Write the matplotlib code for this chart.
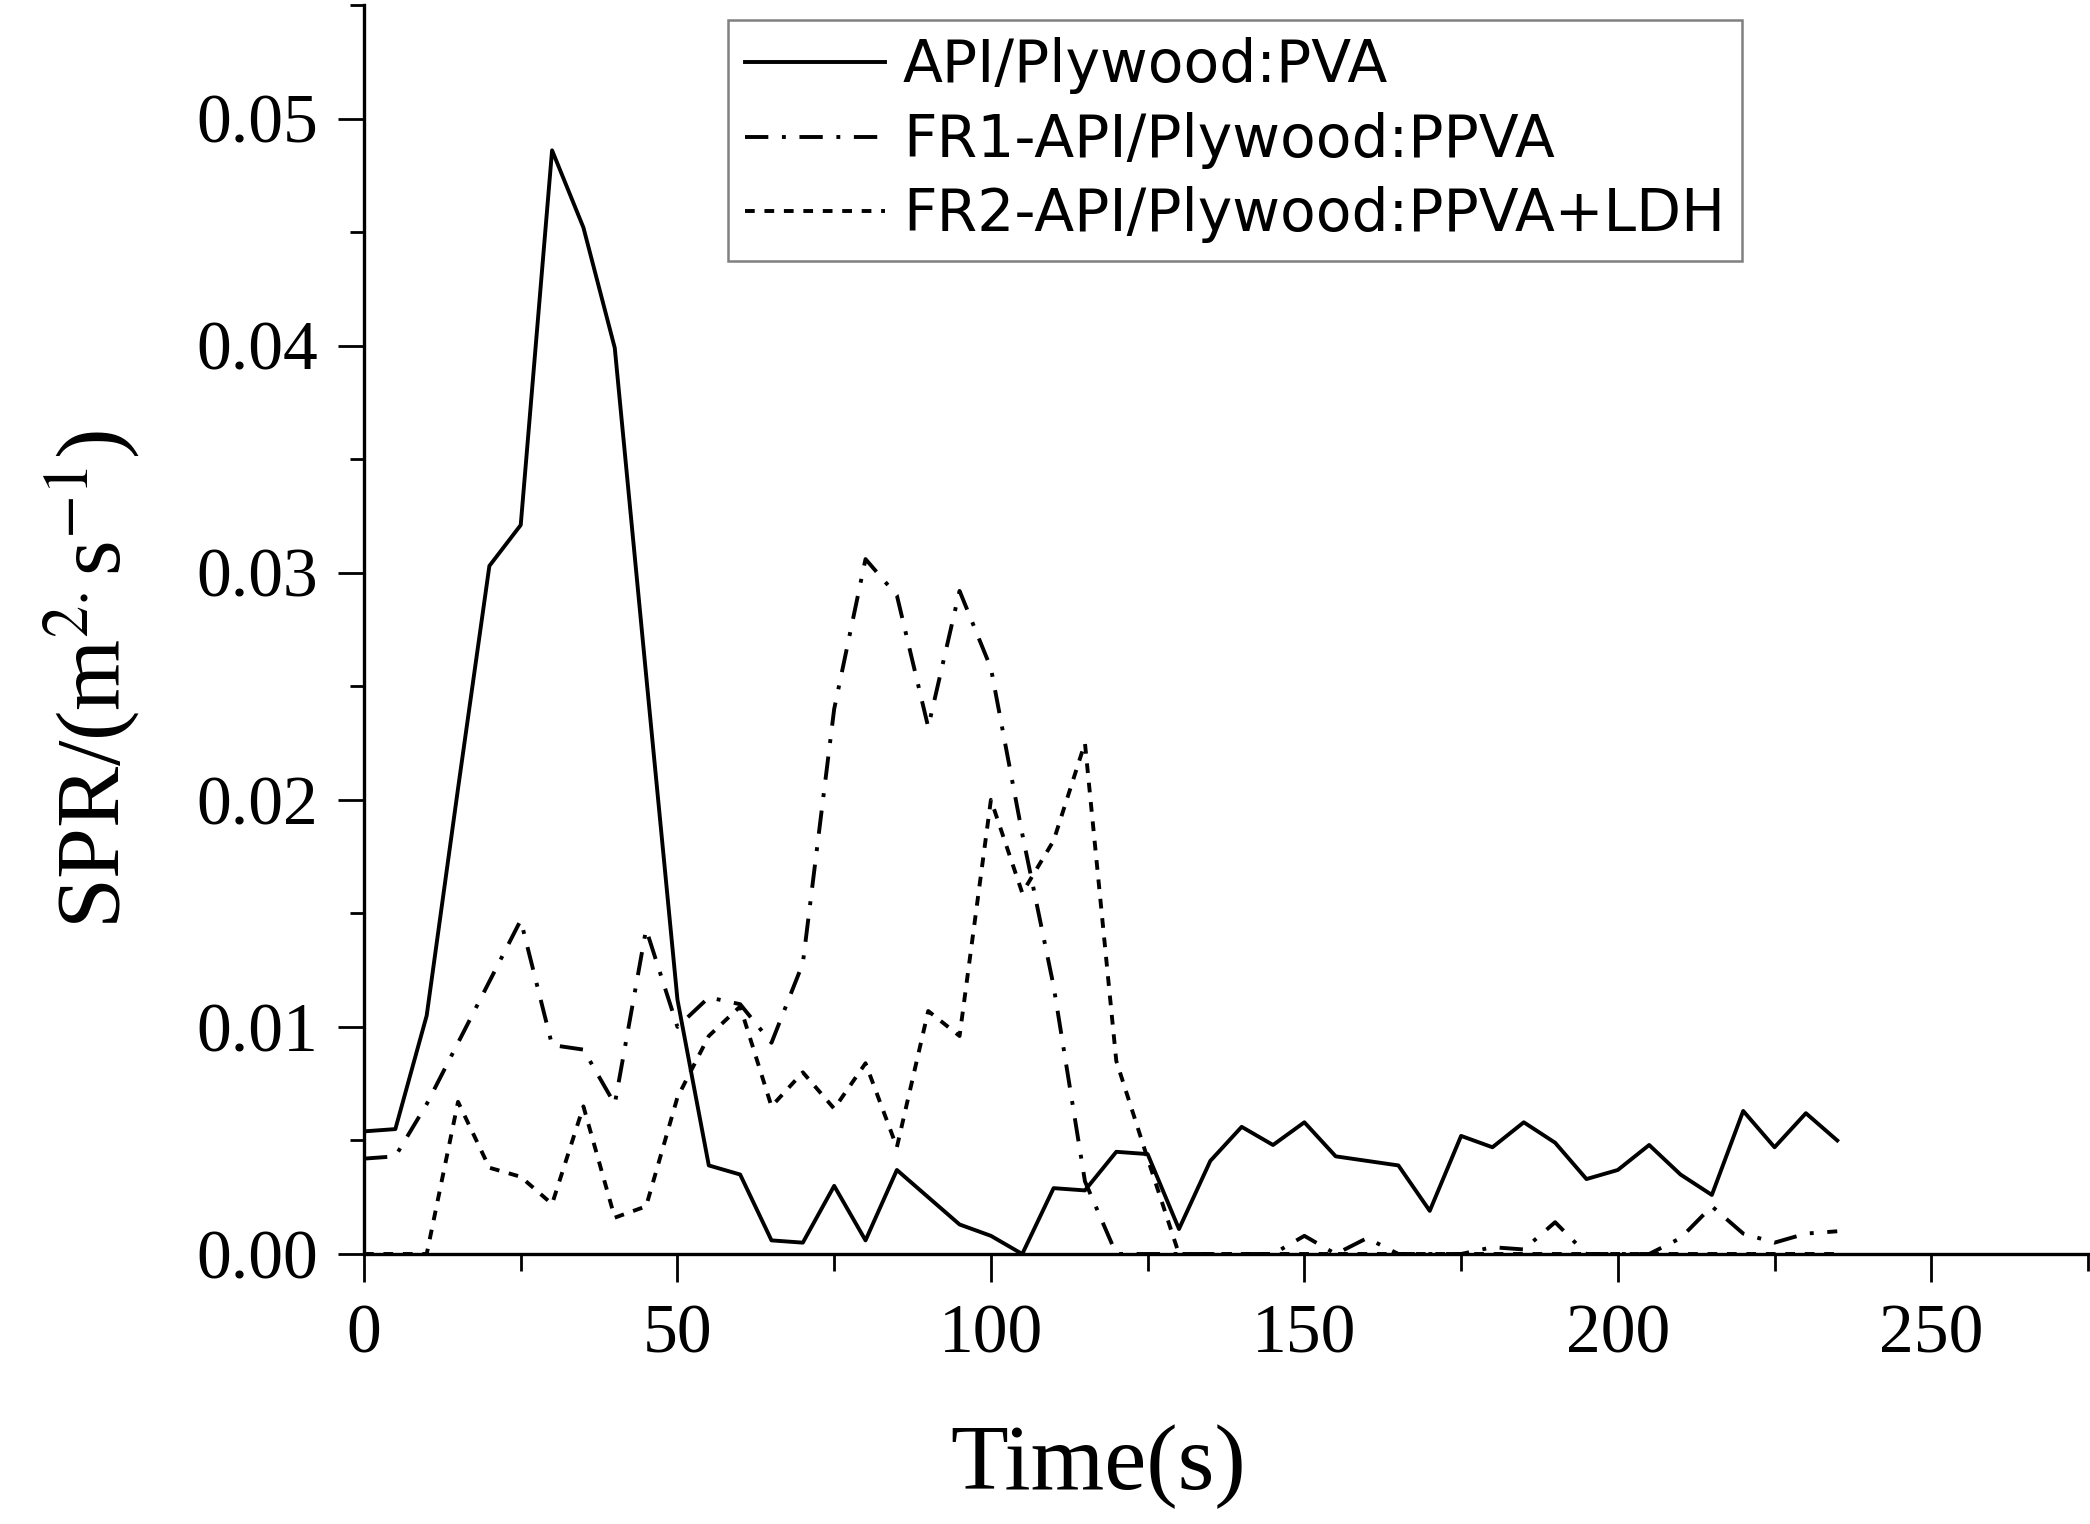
import matplotlib
matplotlib.use('Agg')
import matplotlib.pyplot as plt
from matplotlib.ticker import MultipleLocator, FormatStrFormatter

# ---- data, one point every 5 s
time_s = [0, 5, 10, 15, 20, 25, 30, 35, 40, 45, 50, 55, 60, 65, 70, 75, 80, 85,
          90, 95, 100, 105, 110, 115, 120, 125, 130, 135, 140, 145, 150, 155,
          160, 165, 170, 175, 180, 185, 190, 195, 200, 205, 210, 215, 220, 225,
          230, 235]

spr_pva = [0.0054, 0.0055, 0.0105, 0.0205, 0.0303, 0.0321, 0.0486, 0.0452,
           0.0399, 0.0255, 0.0112, 0.0039, 0.0035, 0.0006, 0.0005, 0.0030,
           0.0006, 0.0037, 0.0025, 0.0013, 0.0008, 0.0000, 0.0029, 0.0028,
           0.0045, 0.0044, 0.0011, 0.0041, 0.0056, 0.0048, 0.0058, 0.0043,
           0.0041, 0.0039, 0.0019, 0.0052, 0.0047, 0.0058, 0.0049, 0.0033,
           0.0037, 0.0048, 0.0035, 0.0026, 0.0063, 0.0047, 0.0062, 0.0050]

spr_ppva = [0.0042, 0.0043, 0.0066, 0.0093, 0.0120, 0.0147, 0.0092, 0.0090,
            0.0066, 0.0143, 0.0100, 0.0113, 0.0110, 0.0093, 0.0128, 0.0240,
            0.0306, 0.0290, 0.0232, 0.0292, 0.0258, 0.0185, 0.0118, 0.0032,
            0.0000, 0.0000, 0.0000, 0.0000, 0.0000, 0.0000, 0.0008, 0.0000,
            0.0007, 0.0000, 0.0000, 0.0000, 0.0003, 0.0002, 0.0014, 0.0000,
            0.0000, 0.0000, 0.0007, 0.0021, 0.0009, 0.0005, 0.0009, 0.0010]

spr_ldh = [0.0000, 0.0000, 0.0000, 0.0067, 0.0038, 0.0034, 0.0022, 0.0065,
           0.0016, 0.0021, 0.0069, 0.0096, 0.0109, 0.0065, 0.0080, 0.0064,
           0.0084, 0.0047, 0.0107, 0.0096, 0.0200, 0.0159, 0.0182, 0.0225,
           0.0085, 0.0042, 0.0000, 0.0000, 0.0000, 0.0000, 0.0000, 0.0000,
           0.0000, 0.0000, 0.0000, 0.0000, 0.0000, 0.0000, 0.0000, 0.0000,
           0.0000, 0.0000, 0.0000, 0.0000, 0.0000, 0.0000, 0.0000, 0.0000]

labels = ['API/Plywood:PVA', 'FR1-API/Plywood:PPVA', 'FR2-API/Plywood:PPVA+LDH']

plt.rcParams['mathtext.fontset'] = 'stix'
serif = 'Liberation Serif'

W, H = 2090, 1524
fig = plt.figure(figsize=(W / 100, H / 100), dpi=100)
ax = fig.add_axes([364 / W, (H - 1254) / H, (2088 - 364) / W, (1254 - 5) / H])

lw = 2.8
ax.plot(time_s, spr_pva, color='black', lw=lw, ls='-', label=labels[0])
ax.plot(time_s, spr_ppva, color='black', lw=lw, ls=(0, (6, 3.5, 1, 3.5)), label=labels[1])
ax.plot(time_s, spr_ldh, color='black', lw=lw, ls=(0, (2.5, 2.5)), label=labels[2])

ax.set_xlim(0, 275)
ax.set_ylim(0, 0.055)
ax.xaxis.set_major_locator(MultipleLocator(50))
ax.xaxis.set_minor_locator(MultipleLocator(25))
ax.yaxis.set_major_locator(MultipleLocator(0.01))
ax.yaxis.set_minor_locator(MultipleLocator(0.005))
ax.yaxis.set_major_formatter(FormatStrFormatter('%.2f'))

for s in ['top', 'right']:
    ax.spines[s].set_visible(False)
for s in ['left', 'bottom']:
    ax.spines[s].set_linewidth(2.4)

ax.tick_params(axis='x', which='major', direction='out', length=20, width=2, pad=16)
ax.tick_params(axis='x', which='minor', direction='out', length=12, width=2)
ax.tick_params(axis='y', which='major', direction='out', length=19, width=2, pad=14)
ax.tick_params(axis='y', which='minor', direction='out', length=10, width=2)
for t in ax.get_xticklabels() + ax.get_yticklabels():
    t.set_fontfamily(serif)
    t.set_fontsize(50)

ax.set_xlabel('Time(s)', fontsize=68, fontfamily=serif)
ax.xaxis.set_label_coords(0.426, -0.17)
ax.xaxis.label.set_va('center')
ax.set_ylabel(r'SPR/(m$^{2.}$s$^{-1}$)', fontsize=66, fontfamily=serif)
ax.yaxis.set_label_coords(-0.157, 0.46)
ax.yaxis.label.set_va('center')

leg = ax.legend(loc='upper left', bbox_to_anchor=(0.211, 0.988), borderaxespad=0,
                prop={'family': 'DejaVu Sans', 'size': 42}, handlelength=2.4,
                handletextpad=0.3, labelspacing=0.3, borderpad=0.3,
                fancybox=False, framealpha=1)
leg.get_frame().set_edgecolor('#808080')
leg.get_frame().set_linewidth(1.8)

fig.savefig('out.png', dpi=100)
